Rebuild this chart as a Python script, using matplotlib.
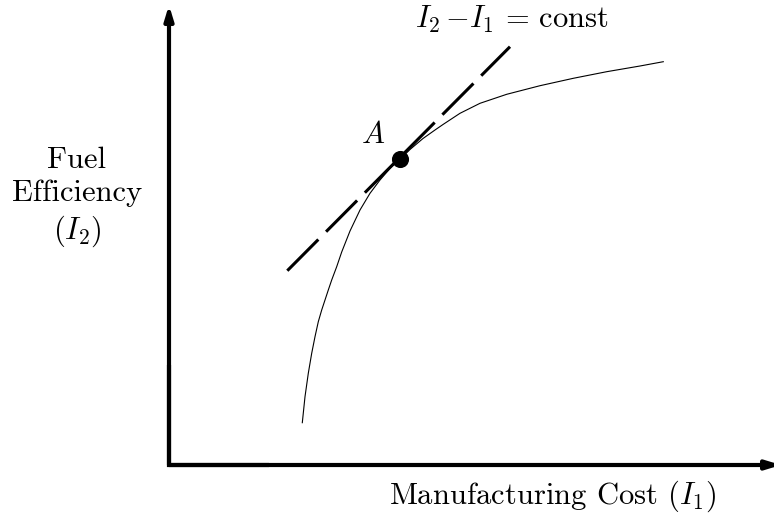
import matplotlib
matplotlib.use("Agg")
import matplotlib.pyplot as plt

plt.rcParams['mathtext.fontset'] = 'cm'
plt.rcParams['font.family'] = ['cmr10', 'DejaVu Sans']
plt.rcParams['axes.unicode_minus'] = False

# Trade-off curve: Manufacturing Cost (I1) vs Fuel Efficiency (I2), arbitrary units
curve_x = [1.333, 1.36, 1.393, 1.427, 1.46, 1.493, 1.527, 1.56, 1.593, 1.627,
           1.677, 1.727, 1.81, 1.91, 2.01, 2.11, 2.21, 2.31, 2.41, 2.54,
           2.66, 2.743, 2.91, 3.11, 3.377, 3.71, 4.043, 4.377, 4.71, 4.943]
curve_y = [0.423, 0.683, 0.917, 1.117, 1.283, 1.433, 1.55, 1.65, 1.75, 1.85,
           1.983, 2.13, 2.34, 2.55, 2.717, 2.85, 2.967, 3.057, 3.155, 3.265,
           3.35, 3.407, 3.517, 3.617, 3.707, 3.793, 3.867, 3.933, 3.99, 4.033]
# Tangent line I2 - I1 = const
tangent_x = [1.183, 3.41]
tangent_y = [1.943, 4.183]
# Point A
point_x = [2.31]
point_y = [3.057]

axis_x_end = 6.12
axis_y_end = 4.60

fig = plt.figure(figsize=(7.74, 5.18), dpi=100)
ax = fig.add_axes([0, 0, 1, 1])
ax.set_xlim(-1.69, 6.05)
ax.set_ylim(-0.53, 4.65)
ax.axis('off')

arrow_kw = dict(arrowstyle='-|>,head_length=0.85,head_width=0.26', lw=3,
                color='black', mutation_scale=10, shrinkA=0, shrinkB=0)
ax.annotate('', xy=(axis_x_end, 0), xytext=(0, 0), arrowprops=arrow_kw,
            annotation_clip=False)
ax.annotate('', xy=(0, axis_y_end), xytext=(0, 0), arrowprops=arrow_kw,
            annotation_clip=False)
# square corner where the two axes meet
ax.plot([0, 0, 1], [1, 0, 0], color='black', lw=3, solid_joinstyle='miter',
        solid_capstyle='butt')

ax.plot(curve_x, curve_y, color='black', lw=0.8)
ax.plot(tangent_x, tangent_y, color='black', lw=2.2, dashes=(14.4, 3.6),
        dash_capstyle='butt')
ax.plot(point_x, point_y, 'o', color='black', markersize=11.3)

ax.text(2.04, 3.30, r'$A$', fontsize=22, ha='center', va='center')
ax.text(3.43, 4.46, r'$I_2\,{-}I_1\,=\,\mathrm{const}$', fontsize=22,
        ha='center', va='center')
ax.text(3.84, -0.31, r'Manufacturing Cost ($I_1$)', fontsize=22,
        ha='center', va='center')
ax.text(-0.92, 2.67, 'Fuel\nEfficiency\n($I_2$)', fontsize=22,
        ha='center', va='center', linespacing=1.25, multialignment='center')

fig.savefig('out.png', dpi=100)
